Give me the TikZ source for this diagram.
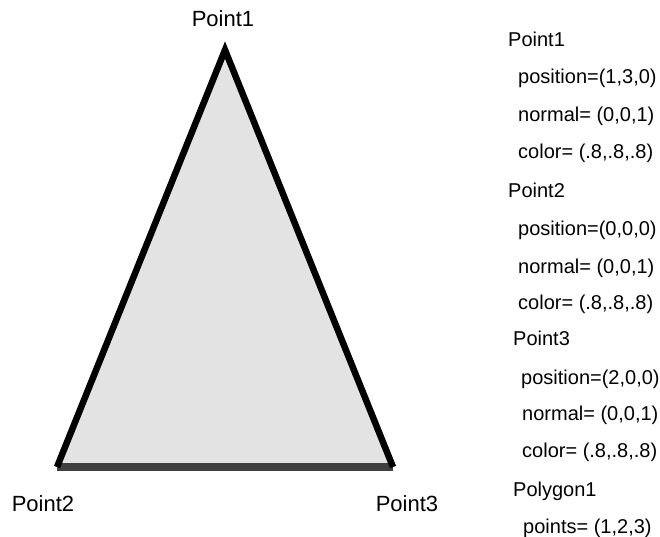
\documentclass[tikz,border=0pt]{standalone}
\usepackage{fontspec}
\setmainfont{Liberation Sans}
\begin{document}
\begin{tikzpicture}[x=1pt,y=-1pt,
  lbl/.style={font=\fontsize{20}{23}\selectfont, inner sep=0pt, anchor=base west},
  ptlbl/.style={font=\fontsize{22}{25}\selectfont, inner sep=0pt, anchor=base}]
\useasboundingbox (0,0) rectangle (660,537);
\coordinate (p1) at (225,50);
\coordinate (p2) at (57,467);
\coordinate (p3) at (393,467);
\fill[black!11] (p1) -- (p2) -- (p3) -- cycle;
\draw[line width=8pt, black!75] (p2) -- (p3);
\draw[line width=6.5pt, black, line join=miter] (p3) -- (p1) -- (p2);
\node[ptlbl] (l1) at (223,27) {Point1};
\node[ptlbl] (l2) at (43,511) {Point2};
\node[ptlbl] (l3) at (407,511) {Point3};
\node[lbl] (a1) at (508,47) {Point1};
\node[lbl] (a2) at (518,84) {position=(1,3,0)};
\node[lbl] (a3) at (518,122) {normal= (0,0,1)};
\node[lbl] (a4) at (518,159) {color= (.8,.8,.8)};
\node[lbl] (b1) at (508,197) {Point2};
\node[lbl] (b2) at (518,235) {position=(0,0,0)};
\node[lbl] (b3) at (518,273) {normal= (0,0,1)};
\node[lbl] (b4) at (518,309) {color= (.8,.8,.8)};
\node[lbl] (c1) at (513,345) {Point3};
\node[lbl] (c2) at (521,384) {position=(2,0,0)};
\node[lbl] (c3) at (522,420) {normal= (0,0,1)};
\node[lbl] (c4) at (522,457) {color= (.8,.8,.8)};
\node[lbl] (d1) at (513,496) {Polygon1};
\node[lbl] (d2) at (523,533) {points= (1,2,3)};
\end{tikzpicture}
\end{document}
